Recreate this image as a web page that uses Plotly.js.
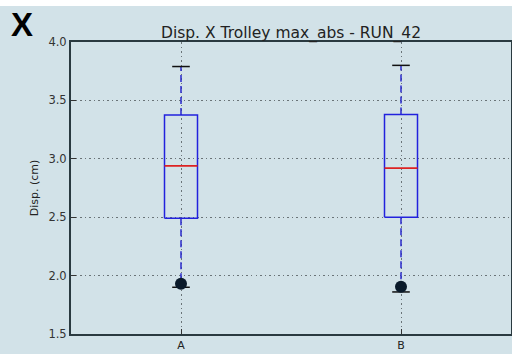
<!DOCTYPE html>
<html><head><meta charset="utf-8">
<script src="https://cdn.plot.ly/plotly-3.0.1.min.js"></script>
<style>html,body{margin:0;padding:0;background:#fff;}#c{position:absolute;left:0;top:6px;width:512px;height:348px;}</style>
</head><body><div id="c"></div>
<script>
const categories = ['A', 'B'];
const q1 = [2.49, 2.50];
const median = [2.94, 2.92];
const q3 = [3.375, 3.38];
const lowerWhisker = [1.90, 1.86];
const upperWhisker = [3.79, 3.80];
const outliers = [[1.93], [1.905]];

const boxHalf = 0.075, capHalf = 0.04;
const traces = [];
categories.forEach((c, k) => {
  const x = k + 1;
  traces.push({x:[x,x,null,x,x], y:[q3[k],upperWhisker[k],null,q1[k],lowerWhisker[k]], mode:'lines',
    line:{color:'#2a2acc', width:1.5, dash:'7px,4px'}, hoverinfo:'skip'});
  traces.push({x:[x-capHalf,x+capHalf,null,x-capHalf,x+capHalf], y:[upperWhisker[k],upperWhisker[k],null,lowerWhisker[k],lowerWhisker[k]],
    mode:'lines', line:{color:'#111', width:1.5}});
  traces.push({x:[x-boxHalf,x+boxHalf,x+boxHalf,x-boxHalf,x-boxHalf], y:[q1[k],q1[k],q3[k],q3[k],q1[k]],
    mode:'lines', line:{color:'#2222dd', width:1.5}});
  traces.push({x:[x-boxHalf,x+boxHalf], y:[median[k],median[k]], mode:'lines', line:{color:'#dd2222', width:1.8}});
  traces.push({x:outliers[k].map(()=>x), y:outliers[k], mode:'markers', marker:{color:'#0a1a2a', size:12}});
});

const layout = {
  width:512, height:348,
  margin:{l:71, r:1, t:36, b:20},
  paper_bgcolor:'#d2e2e8', plot_bgcolor:'#d2e2e8',
  showlegend:false,
  font:{family:'DejaVu Sans', color:'#222', size:11},
  title:{text:'Disp. X Trolley max_abs - RUN_42', xref:'paper', x:0.5, xanchor:'center', yref:'paper', y:1, yanchor:'bottom',
    pad:{b:4}, font:{size:15.5, color:'#222'}},
  xaxis:{range:[0.5,2.5], tickvals:[1,2], ticktext:categories, showgrid:true, gridcolor:'#6a7478', griddash:'1.5px,3px', gridwidth:1,
    zeroline:false, showline:true, linecolor:'#2a3a40', linewidth:2, mirror:true, ticks:'inside', ticklen:5, tickcolor:'#333',
    tickfont:{size:11, color:'#222'}},
  yaxis:{range:[1.5,4.0], tickvals:[1.5,2.0,2.5,3.0,3.5,4.0], ticktext:['1.5','2.0','2.5','3.0','3.5','4.0'],
    showgrid:true, gridcolor:'#6a7478', griddash:'1.5px,3px', gridwidth:1, zeroline:false, showline:true, linecolor:'#2a3a40', linewidth:2, mirror:true,
    ticks:'inside', ticklen:5, tickcolor:'#333', tickfont:{size:11.5, color:'#333'},
    title:{text:'Disp. (cm)', font:{size:11, color:'#222'}, standoff:8}},
  annotations:[{text:'<b>X</b>', xref:'paper', yref:'paper', x:-0.142, y:1.13, xanchor:'left', yanchor:'top', showarrow:false,
    font:{family:'Liberation Sans', size:33, color:'#000'}}]
};
Plotly.newPlot('c', traces, layout, {displayModeBar:false, staticPlot:true});
</script></body></html>
